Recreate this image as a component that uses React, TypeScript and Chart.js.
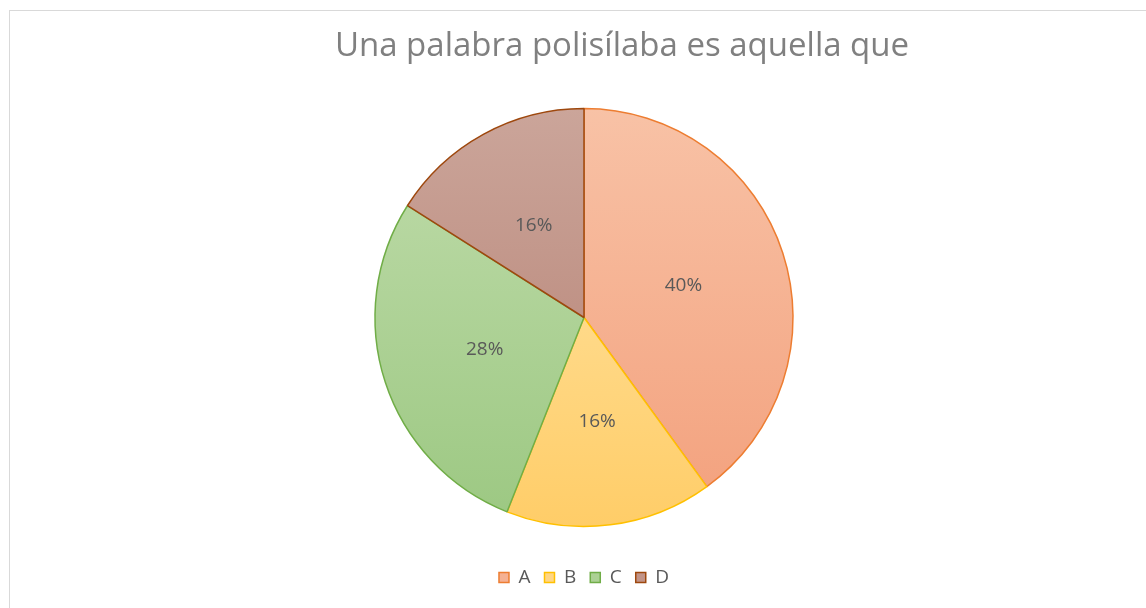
import React, { useEffect, useRef } from "react";
import { Chart, registerables } from "chart.js";

Chart.register(...registerables);

const titleText = "Una palabra polisílaba es aquella que";
const categories = ["A", "B", "C", "D"];
const counts = [10, 4, 7, 4];

const topColors = ["#f8c2a6", "#ffe6aa", "#c0dcab", "#cba59a"];
const bottomColors = ["#f3a07c", "#ffcd68", "#9cc882", "#b47f71"];
const keyColors = ["#f5b193", "#ffd685", "#acd194", "#c29488"];
const borderColors = ["#ed7d31", "#ffc000", "#70ad47", "#9e480e"];

const RADIUS = 209;
const FONT = "'Open Sans', 'Liberation Sans', sans-serif";

function sliceFill(c: any) {
  const i = c.dataIndex ?? 0;
  const area = c.chart.chartArea;
  if (!area) return keyColors[i];
  const cy = (area.top + area.bottom) / 2;
  const g = c.chart.ctx.createLinearGradient(0, cy - RADIUS, 0, cy + RADIUS);
  g.addColorStop(0, topColors[i]);
  g.addColorStop(1, bottomColors[i]);
  return g;
}

const overlayPlugin = {
  id: "overlay",
  afterDatasetsDraw(chart: any) {
    const ctx = chart.ctx;
    const meta = chart.getDatasetMeta(0);
    const data = chart.data.datasets[0].data as number[];
    const total = data.reduce((a, b) => a + b, 0);
    ctx.save();
    ctx.font = `400 19px ${FONT}`;
    ctx.fillStyle = "#595959";
    ctx.textAlign = "center";
    ctx.textBaseline = "middle";
    meta.data.forEach((arc: any, i: number) => {
      const p = arc.getCenterPoint();
      const pct = Math.round((data[i] / total) * 100);
      ctx.fillText(pct + "%", p.x, p.y);
    });
    ctx.restore();
  },
  afterDraw(chart: any) {
    const ctx = chart.ctx;
    ctx.save();
    ctx.font = `400 33px ${FONT}`;
    ctx.fillStyle = "#808080";
    ctx.textAlign = "center";
    ctx.textBaseline = "alphabetic";
    ctx.fillText(titleText, 622, 56);
    ctx.restore();
  },
};

export default function App() {
  const ref = useRef<HTMLCanvasElement | null>(null);

  useEffect(() => {
    document.documentElement.style.overflow = "hidden";
    document.body.style.overflow = "hidden";
    if (!ref.current) return;
    const chart = new Chart(ref.current, {
      type: "pie",
      data: {
        labels: categories,
        datasets: [
          {
            data: counts,
            backgroundColor: sliceFill as any,
            borderColor: borderColors,
            borderWidth: 1.5,
            radius: RADIUS,
          },
        ],
      },
      options: {
        animation: false,
        responsive: false,
        layout: { padding: { top: 81, bottom: 11, left: 22, right: 0 } },
        plugins: {
          title: { display: false },
          tooltip: { enabled: false },
          legend: {
            display: true,
            position: "bottom",
            labels: {
              boxWidth: 10,
              boxHeight: 10,
              padding: 14,
              color: "#595959",
              font: { family: FONT, size: 19 },
              generateLabels: () =>
                categories.map((c, i) => ({
                  text: c,
                  fillStyle: keyColors[i],
                  strokeStyle: borderColors[i],
                  lineWidth: 1.5,
                  fontColor: "#595959",
                  hidden: false,
                  index: i,
                })),
            },
          },
        },
      },
      plugins: [overlayPlugin],
    });
    return () => chart.destroy();
  }, []);

  return (
    <>
      <div
        style={{
          position: "fixed",
          left: 9,
          top: 10,
          width: 1300,
          height: 800,
          border: "1px solid #d9d9d9",
          boxSizing: "border-box",
          background: "#ffffff",
        }}
      />
      <canvas
        ref={ref}
        width={1146}
        height={608}
        style={{ position: "fixed", left: 0, top: 0, width: 1146, height: 608 }}
      />
    </>
  );
}
